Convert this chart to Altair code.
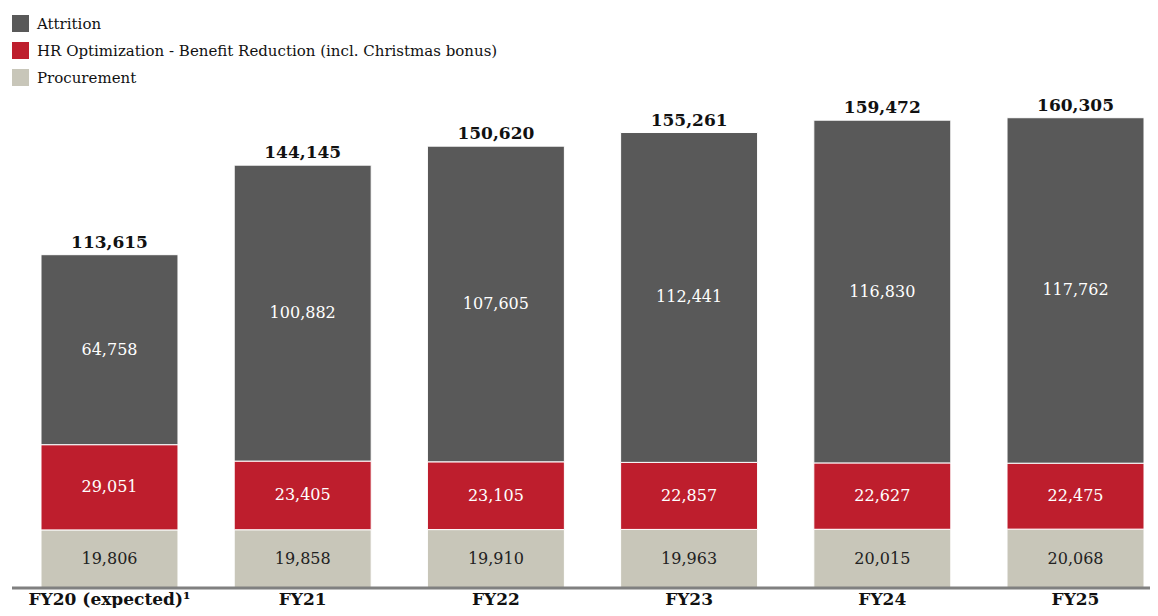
import altair as alt
import pandas as pd

categories = ["FY20 (expected)¹", "FY21", "FY22", "FY23", "FY24", "FY25"]
series = ["Attrition", "HR Optimization - Benefit Reduction (incl. Christmas bonus)", "Procurement"]
attrition = [64758, 100882, 107605, 112441, 116830, 117762]
hr_opt = [29051, 23405, 23105, 22857, 22627, 22475]
procurement = [19806, 19858, 19910, 19963, 20015, 20068]
colors = ["#595959", "#BE1E2D", "#C8C6B9"]

FONT = "DejaVu Serif"
W, H = 1138, 499

rows = []
for i, c in enumerate(categories):
    for s, vals, order in [(series[2], procurement, 0), (series[1], hr_opt, 1), (series[0], attrition, 2)]:
        rows.append({"cat": c, "series": s, "value": vals[i], "ord": order})
df = pd.DataFrame(rows)
totals = pd.DataFrame({
    "cat": categories,
    "total": [a + b + c for a, b, c in zip(attrition, hr_opt, procurement)],
})

x_enc = alt.X(
    "cat:N",
    sort=categories,
    scale=alt.Scale(range=[29, 1132], paddingInner=0.291, paddingOuter=0),
    axis=alt.Axis(
        title=None, labelAngle=0, ticks=False, tickSize=0, domain=False,
        labelFont=FONT, labelFontSize=17, labelFontWeight="bold", labelColor="#111111",
        labelBaseline="alphabetic", labelPadding=16,
    ),
)
y_scale = alt.Scale(domain=[0, 170100], nice=False)

stacked = alt.Chart(df).transform_stack(
    stack="value", groupby=["cat"], as_=["y0", "y1"],
    sort=[alt.SortField("ord", order="ascending")],
)

bars = stacked.mark_bar(stroke="white", strokeWidth=1).encode(
    x=x_enc,
    y=alt.Y("y0:Q", scale=y_scale, axis=None),
    y2="y1:Q",
    color=alt.Color(
        "series:N",
        scale=alt.Scale(domain=series, range=colors),
        legend=alt.Legend(
            title=None, orient="none", legendX=0, legendY=-74, direction="vertical",
            symbolType="square", symbolSize=289, symbolStrokeWidth=0,
            labelFont=FONT, labelFontSize=15, labelColor="#111111",
            labelOffset=8, rowPadding=10, labelLimit=800, padding=0,
        ),
    ),
)

seg_labels = stacked.transform_calculate(mid="(datum.y0 + datum.y1) / 2").mark_text(
    font=FONT, fontSize=16, baseline="middle", align="center"
).encode(
    x=x_enc,
    y=alt.Y("mid:Q", scale=y_scale, axis=None),
    text=alt.Text("value:Q", format=",.0f"),
    color=alt.condition("datum.series === 'Procurement'", alt.value("#222222"), alt.value("#ffffff")),
)

total_labels = alt.Chart(totals).mark_text(
    font=FONT, fontSize=17, fontWeight="bold", baseline="alphabetic", align="center", dy=-7, color="#111111"
).encode(
    x=x_enc,
    y=alt.Y("total:Q", scale=y_scale, axis=None),
    text=alt.Text("total:Q", format=",.0f"),
)

baseline_rule = alt.Chart(pd.DataFrame({"v": [0]})).mark_rule(
    color="#808080", strokeWidth=3
).encode(x=alt.value(0), x2=alt.value(W), y=alt.value(H))

chart = alt.layer(bars, seg_labels, total_labels, baseline_rule).properties(
    width=W, height=H, autosize="none",
    padding={"left": 4, "top": 81, "right": 0, "bottom": 20},
).configure_view(stroke=None)

chart.save("out.html", embed_options={"renderer": "svg", "actions": False})
